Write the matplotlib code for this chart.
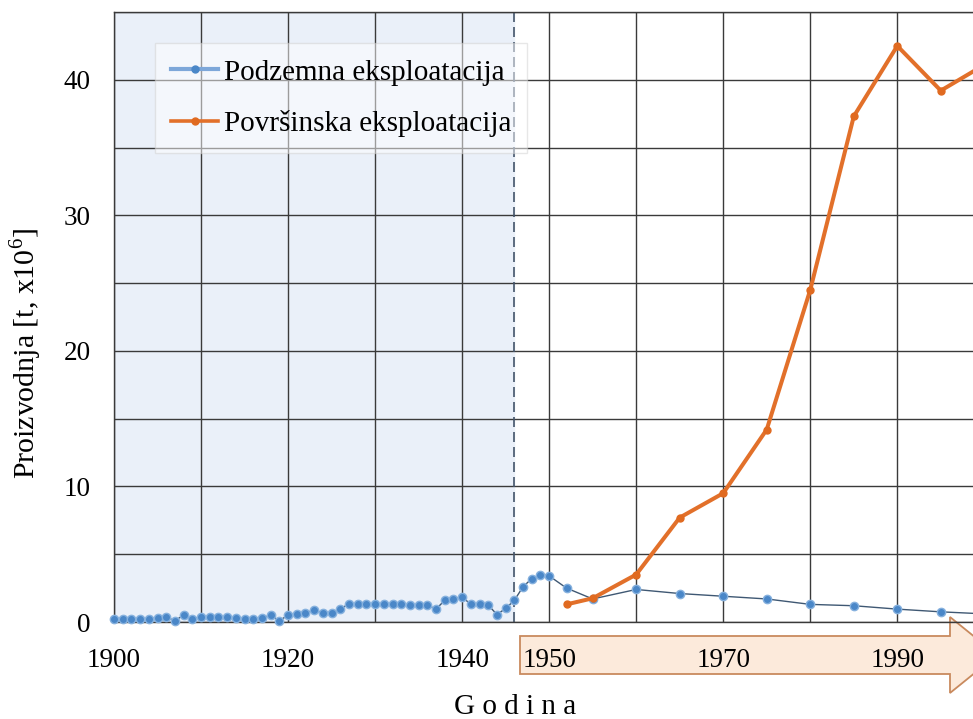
import matplotlib
matplotlib.use("Agg")
import matplotlib.pyplot as plt
from matplotlib.lines import Line2D
from matplotlib.patches import Polygon

plt.rcParams["font.family"] = ["Liberation Serif", "DejaVu Serif"]
plt.rcParams["mathtext.fontset"] = "custom"
plt.rcParams["mathtext.rm"] = "Liberation Serif"

# podzemna eksploatacija (underground), 10^6 t
pod_years = list(range(1900, 1951)) + [1952, 1955, 1960, 1965, 1970, 1975,
                                       1980, 1985, 1990, 1995, 2000]
pod_values = [0.25, 0.25, 0.25, 0.25, 0.25, 0.3, 0.35, 0.1, 0.5, 0.2,
              0.4, 0.4, 0.4, 0.35, 0.3, 0.25, 0.25, 0.3, 0.5, 0.1,
              0.5, 0.6, 0.7, 0.85, 0.7, 0.7, 0.95, 1.35, 1.35, 1.35,
              1.35, 1.3, 1.3, 1.3, 1.25, 1.25, 1.25, 0.95, 1.6, 1.7,
              1.85, 1.3, 1.3, 1.25, 0.55, 1.0, 1.6, 2.6, 3.2, 3.5,
              3.4, 2.5, 1.7, 2.4, 2.1, 1.9, 1.7, 1.3, 1.2, 0.95,
              0.75, 0.6]

# povrsinska eksploatacija (surface mining), 10^6 t
pov_years = [1952, 1955, 1960, 1965, 1970, 1975, 1980, 1985, 1990, 1995, 2000]
pov_values = [1.3, 1.75, 3.5, 7.7, 9.5, 14.2, 24.5, 37.3, 42.5, 39.2, 41.1]

split_year = 1946
x_labels = {1900: "1900", 1920: "1920", 1940: "1940",
            1950: "1950", 1970: "1970", 1990: "1990"}
y_labels = [0, 10, 20, 30, 40]

W, H = 973, 719
fig = plt.figure(figsize=(W / 100, H / 100), dpi=100)
ax = fig.add_axes([114 / W, 1 - 622 / H, 1 - 114 / W, 610 / H])
ax.set_facecolor("none")

ax.axvspan(1900, split_year, color="#EAF0F9", zorder=0)
ax.axvline(split_year, color="#44546A", lw=1.2, ls=(0, (6, 3)), zorder=2)

ax.plot(pod_years, pod_values, color="#3F5873", lw=1.0, marker="o",
        ms=6, mfc="#4A87C8", mec="#86B1DE", mew=1.0, zorder=4, clip_on=False)
ax.plot(pov_years, pov_values, color="#E2702A", lw=2.9, marker="o",
        ms=5, mfc="#E06A20", mec="#E06A20", zorder=5, clip_on=False)

ax.set_xlim(1900, 1998.7)
ax.set_ylim(0, 45)
ax.set_xticks(range(1900, 2000, 10))
ax.set_xticklabels([x_labels.get(y, "") for y in range(1900, 2000, 10)])
ax.set_yticks(range(0, 46, 5))
ax.set_yticklabels([str(v) if v in y_labels else "" for v in range(0, 46, 5)])
ax.tick_params(axis="x", length=0, pad=19, labelsize=19.5)
ax.tick_params(axis="y", length=0, pad=17, labelsize=19.5)
ax.grid(True, color="#3A3A3A", lw=1.0, zorder=1)
ax.set_axisbelow(True)
for side in ["left", "bottom", "top"]:
    ax.spines[side].set_color("#3A3A3A")
    ax.spines[side].set_linewidth(1.0)
ax.spines["right"].set_visible(False)

# arrow behind the post-1946 year labels
px = [(520, 636), (950, 636), (950, 617), (997, 655), (950, 693),
      (950, 674), (520, 674)]
arrow = Polygon([(x / W, 1 - y / H) for x, y in px], closed=True,
                transform=fig.transFigure, facecolor="#FCEADB",
                edgecolor="#C98A5E", lw=1.3, zorder=-1)
fig.patches.append(arrow)

handles = [
    Line2D([], [], color="#7DA7D9", lw=3, marker="o", ms=5,
           mfc="#4A87C8", mec="#4A87C8"),
    Line2D([], [], color="#E2702A", lw=2.6, marker="o", ms=5,
           mfc="#E06A20", mec="#E06A20"),
]
leg = ax.legend(handles, ["Podzemna eksploatacija", "Površinska eksploatacija"],
                loc="upper left", bbox_to_anchor=(0.048, 0.949),
                borderaxespad=0, fontsize=21, handlelength=1.6,
                handletextpad=0.2, labelspacing=0.85, borderpad=0.55,
                fancybox=False, framealpha=0.5, facecolor="white",
                edgecolor="#D0D0D0")
leg.set_zorder(6)

fig.text(26 / W, 1 - 353 / H, "Proizvodnja [t, x10$^{\\mathrm{6}}$]",
         rotation=90, ha="center", va="center", fontsize=21.5)
fig.text(515 / W, 1 - 707 / H, "G o d i n a", ha="center", va="center",
         fontsize=21)

fig.savefig("out.png", dpi=100)
